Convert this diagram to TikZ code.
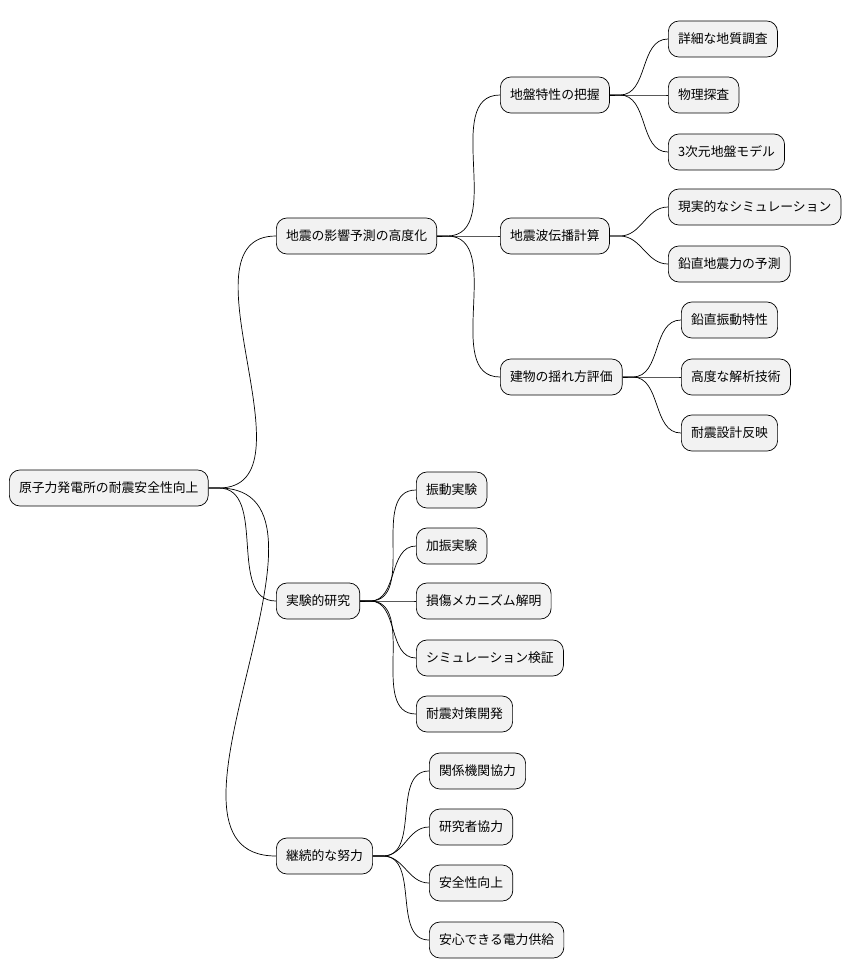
\documentclass[tikz,border=0pt]{standalone}
\usepackage{fontspec}
\setmainfont{Noto Sans CJK JP}
\usetikzlibrary{calc}
\tikzset{
	topic/.style={draw=black, fill=gray!10, rounded corners=6pt, anchor=west, minimum height=36*0.02cm, inner xsep=5.5pt, font=\fontsize{7.3pt}{8pt}\selectfont},
	branch/.style={black, line width=0.4pt}
}
\begin{document}
\begin{tikzpicture}[x=0.02cm, y=-0.02cm]
			\useasboundingbox (0,0) rectangle (866,978);
			% root and first level
			\node[topic] (root) at (9,488) {原子力発電所の耐震安全性向上};
			\node[topic] (pred) at (276,236) {地震の影響予測の高度化};
			\node[topic] (exp) at (276,601) {実験的研究};
			\node[topic] (effort) at (276,856) {継続的な努力};
			% second level
			\node[topic] (ground) at (500,95) {地盤特性の把握};
			\node[topic] (wave) at (500,236) {地震波伝播計算};
			\node[topic] (bldg) at (500,377) {建物の揺れ方評価};
			% third level
			\node[topic] (geo) at (668,39) {詳細な地質調査};
			\node[topic] (phys) at (668,95) {物理探査};
			\node[topic] (model) at (668,152) {3次元地盤モデル};
			\node[topic] (sim) at (668,207) {現実的なシミュレーション};
			\node[topic] (vert) at (668,264) {鉛直地震力の予測};
			\node[topic] (vib) at (681,320) {鉛直振動特性};
			\node[topic] (anal) at (681,377) {高度な解析技術};
			\node[topic] (design) at (681,433) {耐震設計反映};
			\node[topic] (e1) at (416,490) {振動実験};
			\node[topic] (e2) at (416,546) {加振実験};
			\node[topic] (e3) at (416,601) {損傷メカニズム解明};
			\node[topic] (e4) at (416,658) {シミュレーション検証};
			\node[topic] (e5) at (416,714) {耐震対策開発};
			\node[topic] (f1) at (429,771) {関係機関協力};
			\node[topic] (f2) at (429,827) {研究者協力};
			\node[topic] (f3) at (429,883) {安全性向上};
			\node[topic] (f4) at (429,940) {安心できる電力供給};
			% connectors
			\foreach \p/\c in {root/pred, root/exp, root/effort, pred/ground, pred/wave, pred/bldg,
				ground/geo, ground/phys, ground/model, wave/sim, wave/vert, bldg/vib, bldg/anal, bldg/design,
				exp/e1, exp/e2, exp/e3, exp/e4, exp/e5, effort/f1, effort/f2, effort/f3, effort/f4}
				\draw[branch] (\p.east) -- ++(10,0) to[out=0,in=180] (\c.west);
\end{tikzpicture}
\end{document}
